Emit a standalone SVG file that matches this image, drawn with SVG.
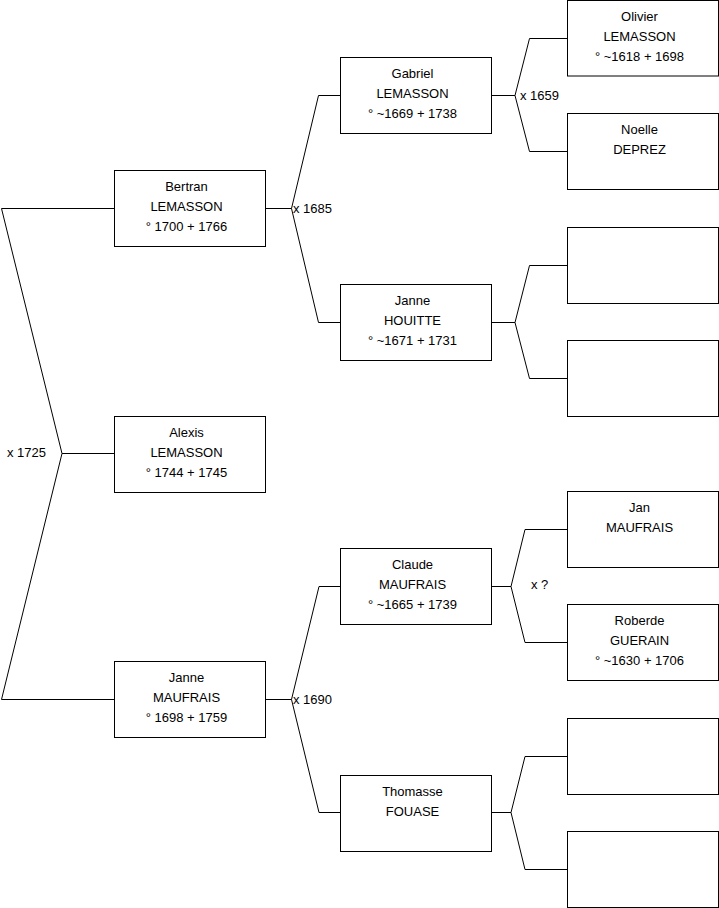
<svg xmlns="http://www.w3.org/2000/svg" width="719" height="908" viewBox="0 0 719 908">
<style>
.box{fill:#fff;stroke:#000;stroke-width:1}
.t{font-family:"Liberation Sans",Arial,sans-serif;font-size:13px;fill:#000;text-anchor:middle}
.l{font-family:"Liberation Sans",Arial,sans-serif;font-size:13px;fill:#000}
.c{fill:none;stroke:#000;stroke-width:1}
</style>
<rect width="719" height="908" fill="#fff"/>
<g id="connectors" class="c">
<path d="M114,208.5 H1.5 L62,453.5 H114 M62,453.5 L1.5,699.5 H114"/>
<path d="M265.5,208.5 H291.5 L318.5,95.5 H340.5 M291.5,208.5 L318.5,322.5 H340.5"/>
<path d="M265.5,699.5 H291.5 L319,586.5 H340.5 M291.5,699.5 L319,812.5 H340.5"/>
<path d="M491.5,95.5 H515 L529.5,38.5 H567.5 M515,95.5 L529.5,151.5 H567.5"/>
<path d="M491.5,322.5 H515 L529.5,265.5 H567.5 M515,322.5 L529.5,378.5 H567.5"/>
<path d="M491.5,586.5 H511 L525,529.5 H567.5 M511,586.5 L525,642.5 H567.5"/>
<path d="M491.5,812.5 H511 L525,756.5 H567.5 M511,812.5 L525,869.5 H567.5"/>
</g>
<g id="labels" class="l">
<text x="7" y="457">x 1725</text>
<text x="293" y="213">x 1685</text>
<text x="520" y="100">x 1659</text>
<text x="293" y="704">x 1690</text>
<text x="531" y="589">x ?</text>
</g>
<g id="bertran"><rect class="box" x="114.5" y="170.5" width="151" height="76"/><text class="t" x="186.5" y="191">Bertran</text><text class="t" x="186.5" y="211">LEMASSON</text><text class="t" x="186.5" y="231">° 1700 + 1766</text></g>
<g id="alexis"><rect class="box" x="114.5" y="416.5" width="151" height="76"/><text class="t" x="186.5" y="437">Alexis</text><text class="t" x="186.5" y="457">LEMASSON</text><text class="t" x="186.5" y="477">° 1744 + 1745</text></g>
<g id="janne-maufrais"><rect class="box" x="114.5" y="661.5" width="151" height="76"/><text class="t" x="186.5" y="682">Janne</text><text class="t" x="186.5" y="702">MAUFRAIS</text><text class="t" x="186.5" y="722">° 1698 + 1759</text></g>
<g id="gabriel"><rect class="box" x="340.5" y="57.5" width="151" height="76"/><text class="t" x="412.5" y="78">Gabriel</text><text class="t" x="412.5" y="98">LEMASSON</text><text class="t" x="412.5" y="118">° ~1669 + 1738</text></g>
<g id="janne-houitte"><rect class="box" x="340.5" y="284.5" width="151" height="76"/><text class="t" x="412.5" y="305">Janne</text><text class="t" x="412.5" y="325">HOUITTE</text><text class="t" x="412.5" y="345">° ~1671 + 1731</text></g>
<g id="claude"><rect class="box" x="340.5" y="548.5" width="151" height="76"/><text class="t" x="412.5" y="569">Claude</text><text class="t" x="412.5" y="589">MAUFRAIS</text><text class="t" x="412.5" y="609">° ~1665 + 1739</text></g>
<g id="thomasse"><rect class="box" x="340.5" y="775.5" width="151" height="76"/><text class="t" x="412.5" y="796">Thomasse</text><text class="t" x="412.5" y="816">FOUASE</text></g>
<g id="olivier"><rect class="box" x="567.5" y="0.5" width="151" height="75.5"/><text class="t" x="639.5" y="21">Olivier</text><text class="t" x="639.5" y="41">LEMASSON</text><text class="t" x="639.5" y="61">° ~1618 + 1698</text></g>
<g id="noelle"><rect class="box" x="567.5" y="113.5" width="151" height="76"/><text class="t" x="639.5" y="134">Noelle</text><text class="t" x="639.5" y="154">DEPREZ</text></g>
<g id="empty1"><rect class="box" x="567.5" y="227.5" width="151" height="76"/></g>
<g id="empty2"><rect class="box" x="567.5" y="340.5" width="151" height="76"/></g>
<g id="jan"><rect class="box" x="567.5" y="491.5" width="151" height="76"/><text class="t" x="639.5" y="512">Jan</text><text class="t" x="639.5" y="532">MAUFRAIS</text></g>
<g id="roberde"><rect class="box" x="567.5" y="604.5" width="151" height="76"/><text class="t" x="639.5" y="625">Roberde</text><text class="t" x="639.5" y="645">GUERAIN</text><text class="t" x="639.5" y="665">° ~1630 + 1706</text></g>
<g id="empty3"><rect class="box" x="567.5" y="718.5" width="151" height="76"/></g>
<g id="empty4"><rect class="box" x="567.5" y="831.5" width="151" height="76"/></g>
</svg>
